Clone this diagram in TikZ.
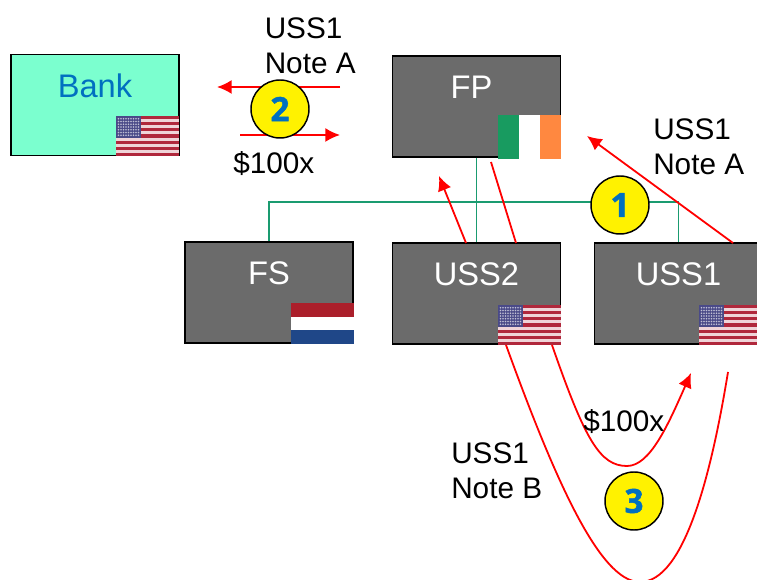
\documentclass[tikz,border=0pt]{standalone}
\usepackage{fontspec}
\setmainfont{Liberation Sans}
\newfontfamily\digitfont[BoldFeatures={FakeBold=1.5}]{Open Sans}
\usetikzlibrary{arrows.meta}
\definecolor{boxgray}{HTML}{6B6B6B}
\definecolor{bankgreen}{HTML}{7BFFCF}
\definecolor{textblue}{HTML}{0070C0}
\definecolor{linkgreen}{HTML}{1A9B70}
\definecolor{flagred}{HTML}{B0283C}
\definecolor{flagblue}{HTML}{4A4A88}
\definecolor{irishgreen}{HTML}{189B60}
\definecolor{irishorange}{HTML}{FF8840}
\definecolor{dutchred}{HTML}{AB1F2B}
\definecolor{dutchblue}{HTML}{1F4788}
\tikzset{>={Latex[length=11pt,width=10.5pt]}}
\tikzset{
  hostbox/.style={draw=black,line width=1.1pt,fill=boxgray,text=white,minimum width=126pt,
    inner xsep=0pt,inner ysep=13pt,text height=19pt,text depth=30.5pt,font=\fontsize{24.5}{28}\selectfont},
  note/.style={align=left,anchor=west,inner sep=0pt,font=\fontsize{22.3}{26.5}\selectfont},
  stepmark/.style={circle,draw=black,line width=1.1pt,fill=yellow,minimum size=43.5pt,inner sep=0pt,
    text=textblue,font=\digitfont\bfseries\fontsize{25}{25}\selectfont},
  link/.style={color=linkgreen,line width=1.2pt},
  flow/.style={color=red,line width=1.35pt},
  usflag/.pic={
    \fill[white!80!flagred] (-63,-40) rectangle (0,0);
    \foreach \n in {0,2,...,12}
      \fill[flagred] (-63,{-\n*40/13}) rectangle (0,{-(\n+1)*40/13});
    \fill[flagblue] (-63,-40) rectangle (-38,-18);
    \foreach \i in {1,...,9}
      \foreach \j in {1,...,7}
        \fill[white!65!flagblue] ({-63+\i*25/10},{-40+\j*22/8}) circle (0.8);
  },
  ieflag/.pic={
    \fill[white] (-63,-44) rectangle (0,0);
    \fill[irishgreen] (-63,-44) rectangle (-42,0);
    \fill[irishorange] (-21,-44) rectangle (0,0);
  },
  nlflag/.pic={
    \fill[white] (-63,-41) rectangle (0,0);
    \fill[dutchred] (-63,-41) rectangle (0,-27);
    \fill[dutchblue] (-63,-14) rectangle (0,0);
  }
}

\begin{document}
\begin{tikzpicture}[x=0.75pt,y=-0.75pt]

\clip (0,0) rectangle (757,580);

\coordinate (bus) at (620,202);
\coordinate (pay) at (340,135);
\coordinate (paystart) at (240,135);
\coordinate (back) at (217,87);
\coordinate (backstart) at (340,87);
\coordinate (notetip) at (587,136);
\coordinate (notestart) at (733,243);
\coordinate (uptip) at (439,176);
\coordinate (upstart) at (466,243);
\coordinate (downend) at (491,162);
\coordinate (downstart) at (516,243);
\coordinate (cashstart) at (552,345);
\coordinate (cashtip) at (691,373);
\coordinate (noteBstart) at (506,345);
\coordinate (noteBend) at (728,372);

\node[hostbox,fill=bankgreen,text=textblue] (Bank) at (95,105) {Bank};
\node[hostbox] (FP) at (476.5,106.5) {FP\hspace*{7.5pt}};
\node[hostbox] (FS) at (269,292.5) {FS};
\node[hostbox] (USS2) at (476.5,293.5) {USS2};
\node[hostbox] (USS1) at (678.5,293.5) {USS1};

\draw[link] (FS.north) |- (bus) -| (USS1.north);
\draw[link] (FP.south) -- (USS2.north);

\pic at (179,156) {usflag};
\pic at (561,159) {ieflag};
\pic at (354,344) {nlflag};
\pic at (561,345) {usflag};
\pic at (762,345) {usflag};

\draw[flow,->] (backstart) -- (back);
\draw[flow,->] (paystart) -- (pay);
\draw[flow,->] (notestart) -- (notetip);
\draw[flow,->] (upstart) -- (uptip);
\draw[flow] (downstart) -- (downend);
\draw[flow,->] (cashstart) .. controls (585,440) and (600,466) .. (627,466)
  .. controls (650,466) and (668,425) .. (cashtip);
\draw[flow] (noteBstart) .. controls (555,480) and (600,582) .. (640,582)
  .. controls (685,582) and (712,470) .. (noteBend);

\node[stepmark] (step1) at (620,205) {1};
\node[stepmark] (step2) at (280,109) {2};
\node[stepmark] (step3) at (634,501) {3};

\node[note] (noteAtop) at (264.5,46) {USS1\\Note A};
\node[note] (noteAright) at (653,146.5) {USS1\\Note A};
\node[note] (noteB) at (451,470.5) {USS1\\Note B};
\node[note] (cashleft) at (233,164) {\$100x};
\node[note] (cashright) at (583,422) {\$100x};

\end{tikzpicture}
\end{document}
